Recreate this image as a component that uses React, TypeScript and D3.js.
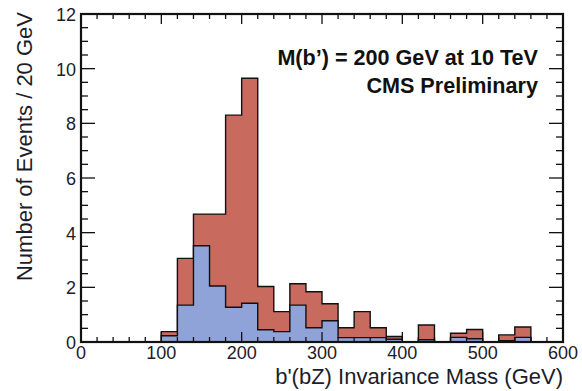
import React from "react";
import * as d3 from "d3";

// bin lower edges (GeV), 20 GeV wide
const binEdges = [0, 20, 40, 60, 80, 100, 120, 140, 160, 180, 200, 220, 240, 260, 280, 300, 320, 340, 360, 380, 400, 420, 440, 460, 480, 500, 520, 540, 560, 580];
// total (stacked) events per bin
const totalValues = [0, 0, 0, 0, 0, 0.38, 3.06, 4.68, 4.68, 8.3, 9.65, 2.03, 1.11, 2.13, 1.84, 1.4, 0.52, 1.11, 0.52, 0.2, 0, 0.62, 0, 0.32, 0.46, 0, 0.26, 0.55, 0, 0];
// blue component per bin
const blueValues = [0, 0, 0, 0, 0, 0.23, 1.35, 3.52, 2.05, 1.27, 1.42, 0.45, 0.38, 1.35, 0.52, 0.78, 0.16, 0.16, 0.16, 0.1, 0, 0.08, 0, 0.17, 0.12, 0, 0.05, 0.17, 0, 0];

const xTicks = [0, 100, 200, 300, 400, 500, 600];
const yTicks = [0, 2, 4, 6, 8, 10, 12];
const binWidth = 20;

const W = 582;
const H = 391;
const left = 81, right = 563, top = 14, bottom = 342;

export default function App() {
  const x = d3.scaleLinear().domain([0, 600]).range([left, right]);
  const y = d3.scaleLinear().domain([0, 12]).range([bottom, top]);

  const stepPoints = (vals: number[]) => {
    const pts: [number, number][] = binEdges.map((e, i) => [e, vals[i]]);
    pts.push([binEdges[binEdges.length - 1] + binWidth, vals[vals.length - 1]]);
    return pts;
  };

  const area = d3.area<[number, number]>()
    .x((d) => x(d[0]))
    .y0(y(0))
    .y1((d) => y(d[1]))
    .curve(d3.curveStepAfter);
  const line = d3.line<[number, number]>()
    .x((d) => x(d[0]))
    .y((d) => y(d[1]))
    .curve(d3.curveStepAfter);

  const totPts = stepPoints(totalValues);
  const bluePts = stepPoints(blueValues);

  const yMinor = d3.range(0, 12.001, 0.5);
  const xMinor = d3.range(0, 600.001, 20);
  const font = "'Liberation Sans', Arial, Helvetica, sans-serif";
  const textColor = "#1c1c2a";

  return (
    <svg width={W} height={H} style={{ position: "absolute", left: 0, top: 0 }} fontFamily={font}>
      <rect x={0} y={0} width={W} height={H} fill="#fff" />
      {/* histograms */}
      <path d={area(totPts) || ""} fill="#c96a5e" />
      <path d={line(totPts) || ""} fill="none" stroke="#111" strokeWidth={1.4} />
      <path d={area(bluePts) || ""} fill="#8fa3d8" />
      <path d={line(bluePts) || ""} fill="none" stroke="#111" strokeWidth={1.4} />

      {/* ticks */}
      {yMinor.map((v) => {
        const major = Math.abs(v % 2) < 1e-6;
        const len = major ? 14 : 7;
        return (
          <g key={"ym" + v}>
            <line x1={left} x2={left + len} y1={y(v)} y2={y(v)} stroke="#111" strokeWidth={1.3} />
            <line x1={right} x2={right - len} y1={y(v)} y2={y(v)} stroke="#111" strokeWidth={1.3} />
          </g>
        );
      })}
      {xMinor.map((v) => {
        const major = Math.abs(v % 100) < 1e-6;
        const len = major ? 10 : 5;
        return (
          <g key={"xm" + v}>
            <line x1={x(v)} x2={x(v)} y1={bottom} y2={bottom - len} stroke="#111" strokeWidth={1.3} />
            <line x1={x(v)} x2={x(v)} y1={top} y2={top + len} stroke="#111" strokeWidth={1.3} />
          </g>
        );
      })}

      {/* frame */}
      <rect x={left} y={top} width={right - left} height={bottom - top} fill="none" stroke="#111" strokeWidth={2.2} />

      {/* tick labels */}
      {yTicks.map((v) => (
        <text key={"yl" + v} x={left - 5} y={y(v) + 7} textAnchor="end" fontSize={18} fill={textColor}>{v}</text>
      ))}
      {xTicks.map((v) => (
        <text key={"xl" + v} x={x(v)} y={359} textAnchor="middle" fontSize={18} fill={textColor}>{v}</text>
      ))}

      {/* axis titles */}
      <text x={right} y={384} textAnchor="end" fontSize={22} fill={textColor}>b'(bZ) Invariance Mass (GeV)</text>
      <text transform={`translate(32, 12) rotate(-90)`} textAnchor="end" fontSize={22} fill={textColor}>Number of Events / 20 GeV</text>

      {/* annotations */}
      <text x={538} y={65} textAnchor="end" fontSize={21.6} fontWeight="bold" fill="#111">M(b’) = 200 GeV at 10 TeV</text>
      <text x={538} y={93} textAnchor="end" fontSize={21.6} fontWeight="bold" fill="#111">CMS Preliminary</text>
    </svg>
  );
}
